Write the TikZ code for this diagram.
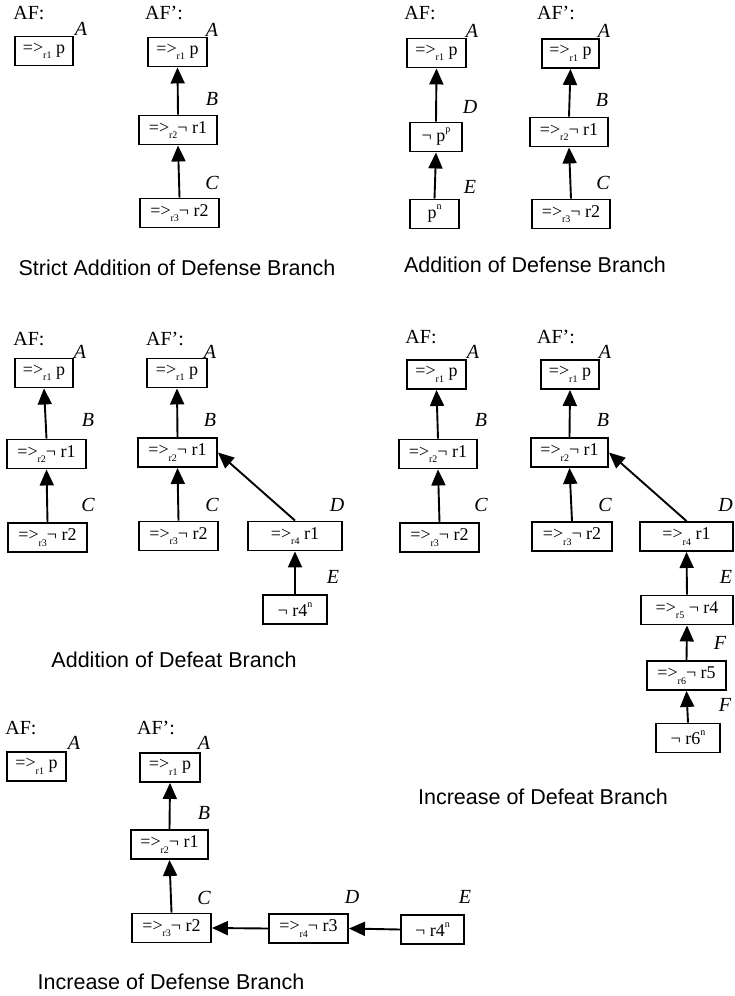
\documentclass[tikz,border=0pt]{standalone}
\usepackage{fontspec}
\setmainfont{Liberation Serif}
\newfontfamily\capfont{Liberation Sans}
\usetikzlibrary{arrows.meta}
% rule index written below the implication arrow, markers written above
\newcommand\rsub[1]{\raisebox{-0.3em}{\fontsize{10}{10}\selectfont #1}}
\newcommand\rsup[1]{\raisebox{0.5em}{\fontsize{10}{10}\selectfont #1}}
\begin{document}
\begin{tikzpicture}[x=1pt,y=1pt,
  arg/.style={draw,line width=1.9pt,minimum height=29pt,inner sep=0pt,
    font=\fontsize{18}{18}\selectfont},
  lab/.style={font=\fontsize{20}{20}\selectfont\itshape,inner sep=0pt},
  head/.style={font=\fontsize{20}{20}\selectfont,inner sep=0pt},
  captext/.style={font=\capfont\fontsize{21.5}{21.5}\selectfont,inner sep=0pt},
  att/.style={line width=1.9pt,-{Triangle[length=16pt,width=14pt]}}
]
\useasboundingbox (0,0) rectangle (734,-996);

% ---------- Strict addition of defense branch ----------
\node[head] (s1h) at (29,-13) {AF:};
\node[arg,minimum width=58pt] (s1a) at (44,-51) {=>\rsub{r1} p};
\node[lab] (s1la) at (81,-29) {A};
\node[head] (s1h2) at (164,-13) {AF’:};
\node[arg,minimum width=59pt] (s1A) at (177.5,-52) {=>\rsub{r1} p};
\node[lab] (s1lA) at (212,-30) {A};
\node[arg,minimum width=78pt] (s1B) at (178,-130) {=>\rsub{r2}¬ r1};
\node[lab] (s1lB) at (212,-99) {B};
\node[arg,minimum width=79pt] (s1C) at (179.5,-213) {=>\rsub{r3}¬ r2};
\node[lab] (s1lC) at (212,-183) {C};
\draw[att] (s1B.north) -- (s1A.south);
\draw[att] (s1C.north) -- (s1B.south);
\node[captext] (s1cap) at (177,-268) {Strict Addition of Defense Branch};

% ---------- Addition of defense branch ----------
\node[head] (s2h) at (420,-13) {AF:};
\node[arg,minimum width=59pt] (s2a) at (436.5,-53) {=>\rsub{r1} p};
\node[lab] (s2la) at (472,-31) {A};
\node[arg,minimum width=52pt] (s2d) at (436,-137) {¬ p\rsup{p}};
\node[lab] (s2ld) at (470,-107) {D};
\node[arg,minimum width=49pt] (s2e) at (434.5,-214) {p\rsup{n}};
\node[lab] (s2le) at (470,-187) {E};
\draw[att] (s2d.north) -- (s2a.south);
\draw[att] (s2e.north) -- (s2d.south);
\node[head] (s2h2) at (556,-13) {AF’:};
\node[arg,minimum width=57pt] (s2A) at (570.5,-53.5) {=>\rsub{r1} p};
\node[lab] (s2lA) at (604,-31) {A};
\node[arg,minimum width=78pt] (s2B) at (569,-132) {=>\rsub{r2}¬ r1};
\node[lab] (s2lB) at (602,-100) {B};
\node[arg,minimum width=78pt] (s2C) at (571,-214) {=>\rsub{r3}¬ r2};
\node[lab] (s2lC) at (603,-183) {C};
\draw[att] (s2B.north) -- (s2A.south);
\draw[att] (s2C.north) -- (s2B.south);
\node[captext] (s2cap) at (535,-265) {Addition of Defense Branch};

% ---------- Addition of defeat branch ----------
\node[head] (s3h) at (29,-339) {AF:};
\node[arg,minimum width=58pt] (s3a) at (44,-373) {=>\rsub{r1} p};
\node[lab] (s3la) at (80,-352) {A};
\node[arg,minimum width=79pt] (s3b) at (46.5,-454) {=>\rsub{r2}¬ r1};
\node[lab] (s3lb) at (88,-420) {B};
\node[arg,minimum width=79pt] (s3c) at (47.5,-537.5) {=>\rsub{r3}¬ r2};
\node[lab] (s3lc) at (88,-505) {C};
\draw[att] (s3b.north) -- (s3a.south);
\draw[att] (s3c.north) -- (s3b.south);
\node[head] (s3h2) at (165,-339) {AF’:};
\node[arg,minimum width=60pt] (s3A) at (177,-373) {=>\rsub{r1} p};
\node[lab] (s3lA) at (210,-352) {A};
\node[arg,minimum width=79pt] (s3B) at (177.5,-452.5) {=>\rsub{r2}¬ r1};
\node[lab] (s3lB) at (210,-420) {B};
\node[arg,minimum width=79pt] (s3C) at (178.5,-536) {=>\rsub{r3}¬ r2};
\node[lab] (s3lC) at (212,-505) {C};
\node[arg,minimum width=94pt] (s3D) at (295,-536) {=>\rsub{r4} r1};
\node[lab] (s3lD) at (337,-505) {D};
\node[arg,minimum width=64pt] (s3E) at (295,-609.5) {¬ r4\rsup{n}};
\node[lab] (s3lE) at (333,-577) {E};
\draw[att] (s3B.north) -- (s3A.south);
\draw[att] (s3C.north) -- (s3B.south);
\draw[att] (s3D.north) -- (s3B.east);
\draw[att] (s3E.north) -- (s3D.south);
\node[captext] (s3cap) at (174,-660) {Addition of Defeat Branch};

% ---------- Increase of defeat branch ----------
\node[head] (s4h) at (421,-337) {AF:};
\node[arg,minimum width=59pt] (s4a) at (436.5,-374.5) {=>\rsub{r1} p};
\node[lab] (s4la) at (473,-352) {A};
\node[arg,minimum width=78pt] (s4b) at (438,-454) {=>\rsub{r2}¬ r1};
\node[lab] (s4lb) at (481,-420) {B};
\node[arg,minimum width=79pt] (s4c) at (439.5,-537.5) {=>\rsub{r3}¬ r2};
\node[lab] (s4lc) at (481,-505) {C};
\draw[att] (s4b.north) -- (s4a.south);
\draw[att] (s4c.north) -- (s4b.south);
\node[head] (s4h2) at (556,-337) {AF’:};
\node[arg,minimum width=58pt] (s4A) at (570,-374.5) {=>\rsub{r1} p};
\node[lab] (s4lA) at (605,-352) {A};
\node[arg,minimum width=77pt] (s4B) at (569.5,-452.5) {=>\rsub{r2}¬ r1};
\node[lab] (s4lB) at (603,-420) {B};
\node[arg,minimum width=80pt] (s4C) at (572,-536.5) {=>\rsub{r3}¬ r2};
\node[lab] (s4lC) at (605,-505) {C};
\node[arg,minimum width=93pt] (s4D) at (686.5,-536.5) {=>\rsub{r4} r1};
\node[lab] (s4lD) at (725.5,-505) {D};
\node[arg,minimum width=92pt] (s4E) at (687,-610) {=>\rsub{r5} ¬ r4};
\node[lab] (s4lE) at (726,-577) {E};
\node[arg,minimum width=79pt] (s4F) at (686.5,-675.5) {=>\rsub{r6}¬ r5};
\node[lab] (s4lF) at (720,-643) {F};
\node[arg,minimum width=64pt] (s4G) at (688,-738) {¬ r6\rsup{n}};
\node[lab] (s4lG) at (725,-705) {F};
\draw[att] (s4B.north) -- (s4A.south);
\draw[att] (s4C.north) -- (s4B.south);
\draw[att] (s4D.north) -- (s4B.east);
\draw[att] (s4E.north) -- (s4D.south);
\draw[att] (s4F.north) -- (s4E.south);
\draw[att] (s4G.north) -- (s4F.south);
\node[captext] (s4cap) at (543,-797) {Increase of Defeat Branch};

% ---------- Increase of defense branch ----------
\node[head] (s5h) at (21,-728) {AF:};
\node[arg,minimum width=59pt] (s5a) at (36.5,-766.5) {=>\rsub{r1} p};
\node[lab] (s5la) at (74,-743) {A};
\node[head] (s5h2) at (156,-728) {AF’:};
\node[arg,minimum width=60pt] (s5A) at (170,-767.5) {=>\rsub{r1} p};
\node[lab] (s5lA) at (204,-743) {A};
\node[arg,minimum width=77pt] (s5B) at (169.5,-844.5) {=>\rsub{r2}¬ r1};
\node[lab] (s5lB) at (204,-813) {B};
\node[arg,minimum width=79pt] (s5C) at (171.5,-928) {=>\rsub{r3}¬ r2};
\node[lab] (s5lC) at (204,-898) {C};
\node[arg,minimum width=79pt] (s5D) at (308.5,-928.5) {=>\rsub{r4}¬ r3};
\node[lab] (s5lD) at (352,-897) {D};
\node[arg,minimum width=63pt] (s5E) at (432.5,-929.5) {¬ r4\rsup{n}};
\node[lab] (s5lE) at (465,-897) {E};
\draw[att] (s5B.north) -- (s5A.south);
\draw[att] (s5C.north) -- (s5B.south);
\draw[att] (s5D.west) -- (s5C.east);
\draw[att] (s5E.west) -- (s5D.east);
\node[captext] (s5cap) at (171,-982) {Increase of Defense Branch};
\end{tikzpicture}
\end{document}
